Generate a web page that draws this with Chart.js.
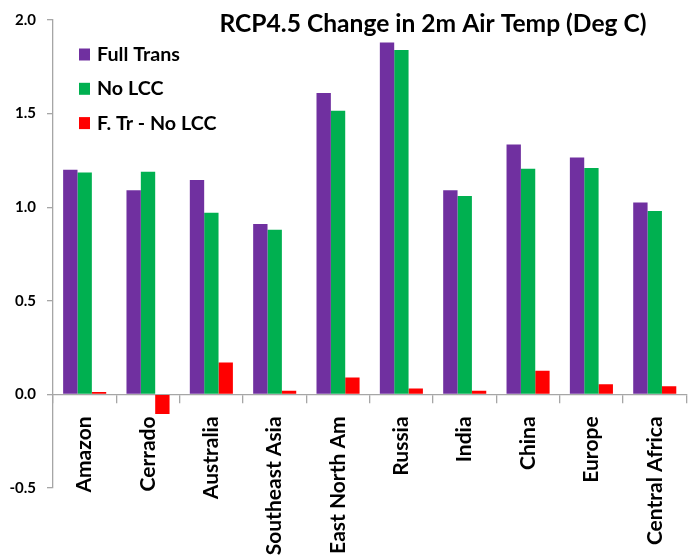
<!DOCTYPE html>
<html>
<head>
<meta charset="utf-8">
<title>RCP4.5 Change in 2m Air Temp</title>
<script src="https://cdn.jsdelivr.net/npm/chart.js@4.4.0/dist/chart.umd.min.js"></script>
<style>
    html, body { margin: 0; padding: 0; background: #ffffff; overflow: hidden; }
    #wrap { position: relative; width: 694px; height: 557px; }
</style>
</head>
<body>
<div id="wrap"><canvas id="tempChart"></canvas></div>
<script>
// regions and temperature change (deg C)
const regions = ['Amazon', 'Cerrado', 'Australia', 'Southeast Asia', 'East North Am',
                 'Russia', 'India', 'China', 'Europe', 'Central Africa'];
const fullTrans = [1.20, 1.09, 1.145, 0.91, 1.61, 1.88, 1.09, 1.335, 1.265, 1.025];
const noLcc = [1.185, 1.19, 0.97, 0.88, 1.515, 1.84, 1.06, 1.205, 1.21, 0.98];
const trMinusLcc = [0.013, -0.105, 0.17, 0.02, 0.09, 0.032, 0.02, 0.126, 0.054, 0.044];
const yTicks = [-0.5, 0.0, 0.5, 1.0, 1.5, 2.0];

const FONT = 'Lato';
const AXIS_GREY = '#a6a6a6';

// title sits inside the plot area, top right
const titlePlugin = {
    id: 'insideTitle',
    afterDraw(chart) {
        const ctx = chart.ctx;
        ctx.save();
        ctx.font = 'bold 24.6px ' + FONT;
        ctx.fillStyle = '#000000';
        ctx.textAlign = 'center';
        ctx.textBaseline = 'alphabetic';
        ctx.fillText('RCP4.5 Change in 2m Air Temp (Deg C)', 433, 32);
        ctx.restore();
    }
};

// legend stacked in the upper left corner of the plot
const legendPlugin = {
    id: 'insideLegend',
    afterDraw(chart) {
        const ctx = chart.ctx;
        ctx.save();
        ctx.font = 'bold 19.7px ' + FONT;
        ctx.textBaseline = 'alphabetic';
        chart.data.datasets.forEach((ds, i) => {
            const base = 61 + i * 34.3;
            ctx.fillStyle = ds.backgroundColor;
            ctx.fillRect(79, base - 12.5, 11, 12);
            ctx.fillStyle = '#000000';
            ctx.fillText(ds.label, 97, base);
        });
        ctx.restore();
    }
};

const ctx = document.getElementById('tempChart').getContext('2d');
const tempChart = new Chart(ctx, {
    type: 'bar',
    data: {
        labels: regions,
        datasets: [
            { label: 'Full Trans', data: fullTrans, backgroundColor: '#7030a0' },
            { label: 'No LCC', data: noLcc, backgroundColor: '#00b050' },
            { label: 'F. Tr - No LCC', data: trMinusLcc, backgroundColor: '#ff0000' }
        ]
    },
    options: {
        responsive: true,
        maintainAspectRatio: false,
        animation: false,
        layout: {
            padding: { top: 14, bottom: 69, right: 1, left: 0 }
        },
        datasets: {
            bar: { categoryPercentage: 0.68, barPercentage: 1.0 }
        },
        scales: {
            x: {
                position: { y: 0 },
                afterFit: (scale) => { scale.height = 0; },
                grid: {
                    offset: true,
                    drawOnChartArea: false,
                    drawTicks: true,
                    tickLength: 8,
                    color: AXIS_GREY,
                    lineWidth: 1.3
                },
                border: { color: AXIS_GREY, width: 1.3 },
                ticks: {
                    minRotation: 90,
                    maxRotation: 90,
                    autoSkip: false,
                    padding: 14,
                    color: '#000000',
                    font: { family: FONT, size: 21, weight: 'bold' }
                }
            },
            y: {
                min: yTicks[0],
                max: yTicks[yTicks.length - 1],
                afterFit: (scale) => { scale.width = 53; },
                afterBuildTicks: (scale) => {
                    scale.ticks = yTicks.map(v => ({ value: v }));
                },
                grid: {
                    drawOnChartArea: false,
                    drawTicks: true,
                    tickLength: 6,
                    color: AXIS_GREY,
                    lineWidth: 1.3
                },
                border: { color: AXIS_GREY, width: 1.3 },
                ticks: {
                    padding: 11,
                    color: '#000000',
                    font: { family: FONT, size: 15, weight: 'bold' },
                    callback: (v) => Number(v).toFixed(1)
                }
            }
        },
        plugins: {
            legend: { display: false },
            title: { display: false },
            tooltip: { enabled: false }
        }
    },
    plugins: [titlePlugin, legendPlugin]
});
</script>
</body>
</html>
